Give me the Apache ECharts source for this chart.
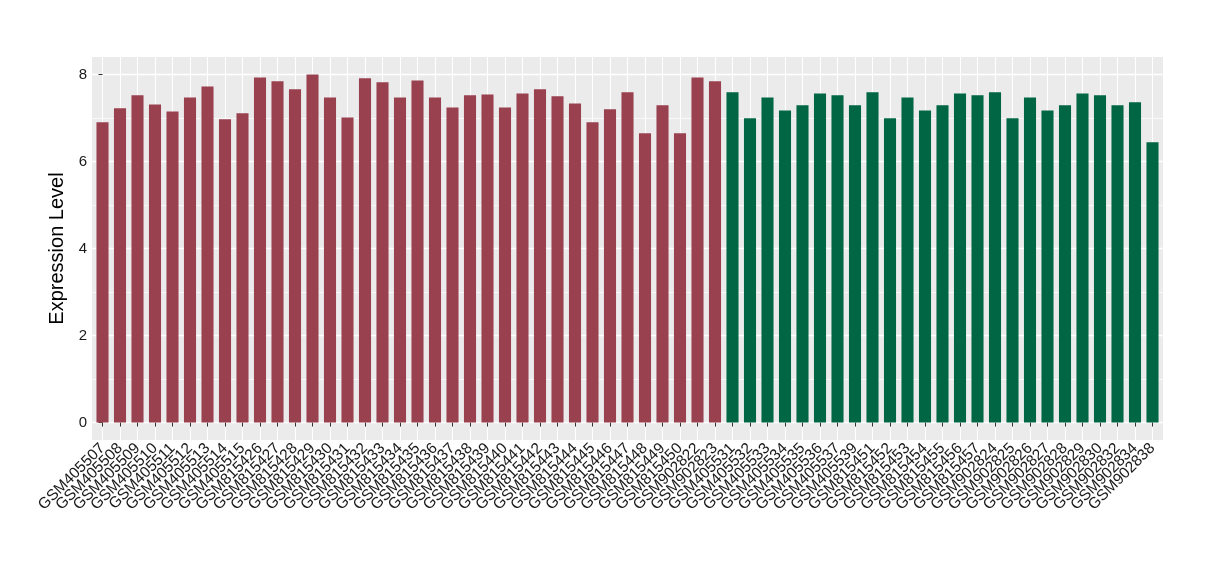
<!DOCTYPE html>
<html><head><meta charset="utf-8">
<script src="https://cdn.jsdelivr.net/npm/echarts@6/dist/echarts.min.js"></script>
<style>html,body{margin:0;padding:0;background:#fff}#c{width:1220px;height:580px}</style>
</head><body><div id="c"></div>
<script>
const samplesA = ["GSM405507","GSM405508","GSM405509","GSM405510","GSM405511","GSM405512","GSM405513","GSM405514","GSM405515",
  "GSM815426","GSM815427","GSM815428","GSM815429","GSM815430","GSM815431","GSM815432","GSM815433","GSM815434","GSM815435",
  "GSM815436","GSM815437","GSM815438","GSM815439","GSM815440","GSM815441","GSM815442","GSM815443","GSM815444","GSM815445",
  "GSM815446","GSM815447","GSM815448","GSM815449","GSM815450","GSM902822","GSM902823"];
const valuesA = [6.90,7.22,7.52,7.31,7.15,7.47,7.72,6.97,7.11,
  7.93,7.84,7.66,8.00,7.47,7.01,7.91,7.82,7.47,7.86,
  7.47,7.24,7.52,7.54,7.24,7.56,7.66,7.50,7.33,6.90,
  7.20,7.59,6.65,7.29,6.65,7.93,7.84];
const samplesB = ["GSM405531","GSM405532","GSM405533","GSM405534","GSM405535","GSM405536","GSM405537","GSM405539",
  "GSM815451","GSM815452","GSM815453","GSM815454","GSM815455","GSM815456","GSM815457",
  "GSM902824","GSM902825","GSM902826","GSM902827","GSM902828","GSM902829","GSM902830","GSM902832","GSM902834","GSM902838"];
const valuesB = [7.59,6.99,7.47,7.17,7.29,7.56,7.52,7.29,
  7.59,6.99,7.47,7.17,7.29,7.56,7.52,
  7.59,6.99,7.47,7.17,7.29,7.56,7.52,7.29,7.36,6.44];
const yTicks = [0,2,4,6,8];
const yMinor = [1,3,5,7];

const categories = samplesA.concat(samplesB);
const idx = categories.map((_, i) => i);
const dataA = valuesA.map((v, i) => [i, v]);
const dataB = valuesB.map((v, i) => [i + samplesA.length, v]);
const FONT = 'Liberation Sans, Arial, sans-serif';

// panel: x 92..1163 ; ggplot discrete expansion 0.6 units each side
const panelLeft = 92, panelRight = 1163;
const n = categories.length;
const unit = (panelRight - panelLeft) / (n + 1.2);
const inset = 0.1 * unit;

const chart = echarts.init(document.getElementById('c'), null, {renderer: 'canvas'});
chart.setOption({
  animation: false,
  grid: [
    {left: panelLeft, right: 1220 - panelRight, top: 57, bottom: 140, show: true, backgroundColor: '#EBEBEB', borderWidth: 0},
    {left: panelLeft + inset, right: 1220 - panelRight + inset, top: 57, bottom: 140, show: false}
  ],
  xAxis: [{
    gridIndex: 0, type: 'value', min: -0.6, max: n - 0.4,
    axisLine: {show: false},
    axisTick: {show: true, length: 4, lineStyle: {color: '#333', width: 1}, customValues: idx},
    axisLabel: {show: false, customValues: idx},
    splitLine: {show: true, lineStyle: {color: '#fff', width: 1.1}}
  }, {
    gridIndex: 1, type: 'category', data: categories, boundaryGap: true,
    axisLine: {show: false},
    axisTick: {show: false},
    axisLabel: {interval: 0, rotate: 45, fontSize: 15.5, color: '#1a1a1a', margin: 6, fontFamily: FONT},
    splitLine: {show: false}
  }],
  yAxis: [{
    gridIndex: 0, type: 'value', min: -0.4, max: 8.4,
    name: 'Expression Level', nameLocation: 'middle', nameGap: 18,
    nameTextStyle: {fontSize: 20, color: '#000', fontFamily: FONT},
    axisLine: {show: false},
    axisTick: {show: true, length: 4, lineStyle: {color: '#333'}, customValues: yTicks},
    axisLabel: {customValues: yTicks, showMinLabel: true, showMaxLabel: true, fontSize: 15, color: '#1a1a1a', margin: 5, fontFamily: FONT},
    splitLine: {show: true, lineStyle: {color: '#fff', width: 1.4}}
  }, {
    gridIndex: 0, type: 'value', min: -0.4, max: 8.4, position: 'left',
    axisLine: {show: false},
    axisTick: {show: false, customValues: yMinor},
    axisLabel: {show: false, customValues: yMinor},
    splitLine: {show: true, lineStyle: {color: '#fff', width: 0.7}}
  }, {
    gridIndex: 1, type: 'value', min: -0.4, max: 8.4, show: false
  }],
  series: [
    {type: 'bar', xAxisIndex: 0, yAxisIndex: 0, data: dataA, barWidth: '69%', barGap: '-100%', itemStyle: {color: '#9A4150'}},
    {type: 'bar', xAxisIndex: 0, yAxisIndex: 0, data: dataB, barWidth: '69%', barGap: '-100%', itemStyle: {color: '#006644'}}
  ]
});
</script></body></html>
